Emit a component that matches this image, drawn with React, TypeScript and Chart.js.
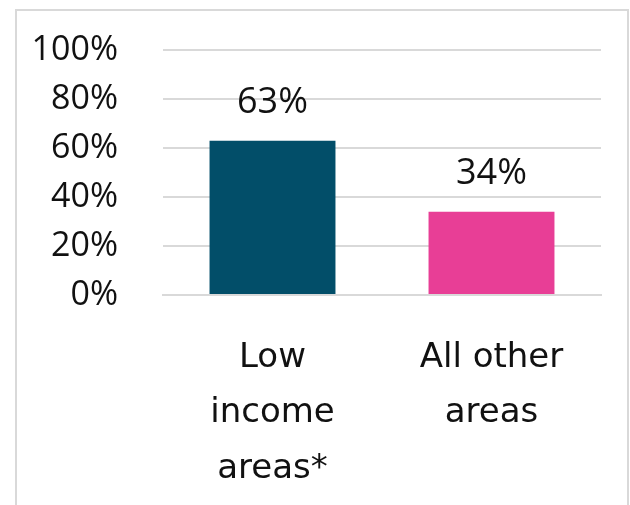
import React, { useEffect, useRef } from "react";
import { Chart, registerables } from "chart.js";

Chart.register(...registerables);

const categories: string[][] = [["Low", "income", "areas*"], ["All other", "areas"]];
const values: number[] = [63, 34];
const barColors: string[] = ["#024e69", "#e83e96"];
const yTicks: number[] = [0, 20, 40, 60, 80, 100];

const FONT = "'Open Sans', 'Noto Sans', sans-serif";
const XFONT = "'DejaVu Sans', sans-serif";

const valueLabels = {
  id: "valueLabels",
  afterDatasetsDraw(chart: any) {
    const ctx = chart.ctx;
    const meta = chart.getDatasetMeta(0);
    ctx.save();
    ctx.font = `36px ${FONT}`;
    ctx.fillStyle = "#111";
    ctx.textAlign = "center";
    ctx.textBaseline = "middle";
    meta.data.forEach((bar: any, i: number) => {
      ctx.fillText(values[i] + "%", bar.x, bar.y - 38);
    });
    ctx.restore();
  },
};

export default function App() {
  const ref = useRef<HTMLCanvasElement>(null);
  useEffect(() => {
    if (!ref.current) return;
    const chart = new Chart(ref.current, {
      type: "bar",
      data: {
        labels: categories,
        datasets: [
          {
            data: values,
            backgroundColor: barColors,
            barPercentage: 0.575,
            categoryPercentage: 1,
          },
        ],
      },
      options: {
        animation: false,
        responsive: false,
        maintainAspectRatio: false,
        layout: { padding: { top: 50, right: 29, bottom: 0, left: 0 } },
        plugins: { legend: { display: false }, tooltip: { enabled: false } },
        scales: {
          y: {
            min: 0,
            max: 100,
            afterFit: (s: any) => {
              s.width = 163;
              s.paddingTop = 0;
              s.paddingBottom = 0;
            },
            afterBuildTicks: (s: any) => { s.ticks = yTicks.map((v) => ({ value: v })); },
            ticks: {
              padding: 45,
              color: "#111",
              font: { family: FONT, size: 34 },
              callback: (v: any) => v + "%",
            },
            grid: { color: "#d9d9d9", lineWidth: 2, drawTicks: false },
            border: { display: false },
          },
          x: {
            afterFit: (s: any) => {
              s.height = 210;
            },
            ticks: {
              padding: 36,
              color: "#111",
              font: { family: XFONT, size: 34, lineHeight: 1.62 },
              maxRotation: 0,
              autoSkip: false,
            },
            grid: { display: false, drawTicks: false },
            border: { display: true, color: "#d9d9d9", width: 2 },
          },
        },
      },
      plugins: [valueLabels],
    });
    return () => chart.destroy();
  }, []);
  return (
    <div>
      <div
        style={{
          position: "fixed",
          left: 15,
          top: 9,
          width: 614,
          height: 520,
          border: "2px solid #d9d9d9",
          boxSizing: "border-box",
          background: "#fff",
        }}
      />
      <canvas
        ref={ref}
        width={630}
        height={505}
        style={{ position: "fixed", left: 0, top: 0, width: 630, height: 505 }}
      />
    </div>
  );
}
